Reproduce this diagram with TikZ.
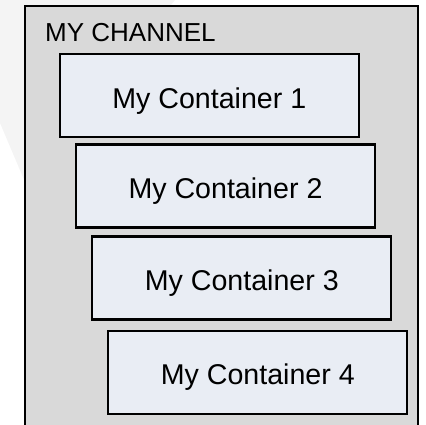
\documentclass[tikz,border=0pt]{standalone}
\usepackage{fontspec}
\setmainfont{Liberation Sans}
\definecolor{chanfill}{HTML}{D9D9D9}
\definecolor{boxfill}{HTML}{E9EDF4}
\definecolor{wm}{HTML}{F4F4F4}
\tikzset{
  cbox/.style={draw=black, line width=2.2pt, fill=boxfill, minimum width=299pt, minimum height=83pt, inner sep=0pt, text height=31pt, text depth=6pt, font=\fontsize{28.6pt}{30pt}\selectfont},
  chan/.style={draw=black, line width=2.2pt, fill=chanfill}
}
\begin{document}
\begin{tikzpicture}[x=1pt,y=-1pt]
\useasboundingbox (0,0) rectangle (426,424);
\clip (0,0) rectangle (426,424);
\fill[wm] (0,0) -- (175,0) -- (25,182) -- (0,123) -- cycle;
\draw[chan] (25,6) rectangle (418,440);
\node[anchor=base west, inner sep=0pt, font=\fontsize{26pt}{28pt}\selectfont] (title) at (45,41) {MY CHANNEL};
\node[cbox] (c1) at (209.3,95.7) {My Container 1};
\node[cbox] (c2) at (225.5,186) {My Container 2};
\node[cbox] (c3) at (241.8,278) {My Container 3};
\node[cbox] (c4) at (257.8,372.3) {My Container 4};
\end{tikzpicture}
\end{document}
